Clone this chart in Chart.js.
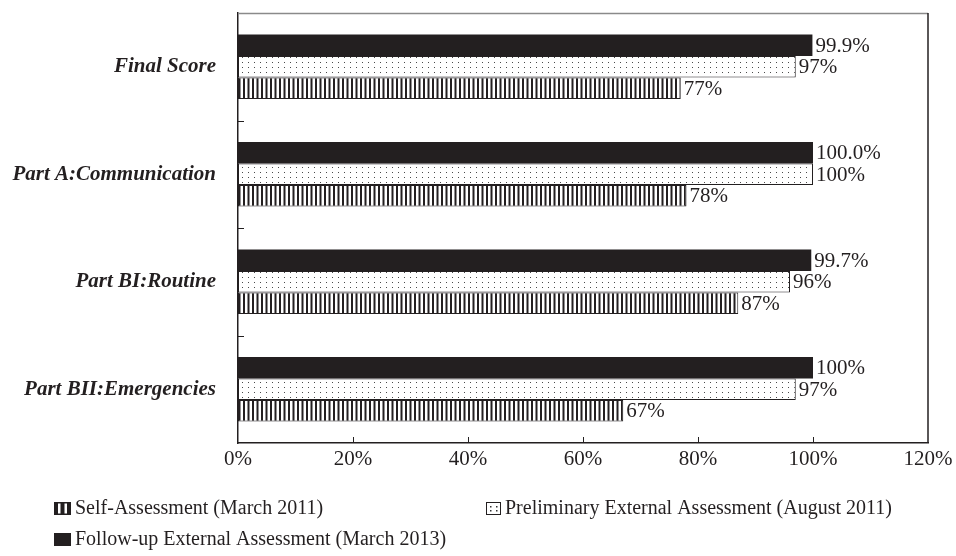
<!DOCTYPE html>
<html>
<head>
<meta charset="utf-8">
<script src="https://cdn.jsdelivr.net/npm/chart.js@4/dist/chart.umd.min.js"></script>
<style>
  html, body { margin: 0; padding: 0; background: #fff; }
  #wrap { width: 956px; height: 556px; position: relative; }
</style>
</head>
<body>
<div id="wrap"><canvas id="c" width="956" height="556"></canvas></div>
<script>
// Assessment scores (%) for each part of the evaluation
const categories = ['Final Score', 'Part A:Communication', 'Part BI:Routine', 'Part BII:Emergencies'];
const seriesNames = [
  'Self-Assessment (March 2011)',
  'Preliminary External Assessment (August 2011)',
  'Follow-up External Assessment (March 2013)'
];
const selfAssessment = [77, 78, 87, 67];
const preliminaryExternal = [97, 100, 96, 97];
const followUpExternal = [99.9, 100.0, 99.7, 100];
// number of decimals printed in each value label
const selfDecimals = [0, 0, 0, 0];
const preliminaryDecimals = [0, 0, 0, 0];
const followUpDecimals = [1, 1, 1, 0];
const xTicks = [0, 20, 40, 60, 80, 100, 120];

const INK = '#231f20';
const SERIF = '"Liberation Serif", "Times New Roman", serif';

function makePattern(w, h, paint) {
  const cv = document.createElement('canvas');
  cv.width = w; cv.height = h;
  const g = cv.getContext('2d');
  paint(g);
  return g.createPattern(cv, 'repeat');
}
const stripePattern = makePattern(9, 4, g => {
  g.fillStyle = '#fff'; g.fillRect(0, 0, 9, 4);
  g.fillStyle = INK;
  g.fillRect(0, 0, 2, 4);
  g.fillRect(4.5, 0, 2, 4);
});
const dotPattern = makePattern(6, 5, g => {
  g.fillStyle = '#fff'; g.fillRect(0, 0, 6, 5);
  g.fillStyle = '#4a4a4a';
  g.fillRect(2, 2, 1, 1);
});

// datasets listed top-to-bottom within each category
const datasets = [
  { label: seriesNames[2], data: followUpExternal, decimals: followUpDecimals,
    backgroundColor: INK, borderWidth: 0, kind: 'solid' },
  { label: seriesNames[1], data: preliminaryExternal, decimals: preliminaryDecimals,
    backgroundColor: dotPattern, borderColor: INK, borderWidth: 1, borderSkipped: false, kind: 'dots' },
  { label: seriesNames[0], data: selfAssessment, decimals: selfDecimals,
    backgroundColor: stripePattern, borderColor: INK, borderWidth: 1, borderSkipped: false, kind: 'stripes' }
];

const valueLabels = {
  id: 'valueLabels',
  afterDatasetsDraw(chart) {
    const ctx = chart.ctx;
    ctx.save();
    ctx.font = '21px ' + SERIF;
    ctx.fillStyle = INK;
    ctx.textAlign = 'left';
    ctx.textBaseline = 'middle';
    chart.data.datasets.forEach((ds, di) => {
      chart.getDatasetMeta(di).data.forEach((el, i) => {
        const txt = ds.data[i].toFixed(ds.decimals[i]) + '%';
        ctx.fillText(txt, el.x + 3, el.y + 1);
      });
    });
    ctx.restore();
  }
};

const frameAndTicks = {
  id: 'frameAndTicks',
  afterDraw(chart) {
    const ctx = chart.ctx;
    const a = chart.chartArea;
    const xs = chart.scales.x, ys = chart.scales.y;
    ctx.save();
    // top and right frame edges
    ctx.strokeStyle = '#8a8a8a';
    ctx.lineWidth = 1.5;
    ctx.beginPath(); ctx.moveTo(a.left, a.top + 0.5); ctx.lineTo(a.right, a.top + 0.5); ctx.stroke();
    ctx.strokeStyle = INK;
    ctx.beginPath(); ctx.moveTo(a.right, a.top); ctx.lineTo(a.right, a.bottom); ctx.stroke();
    // inward tick marks
    ctx.lineWidth = 1;
    xTicks.forEach(v => {
      if (v === xs.min || v === xs.max) return;
      const px = Math.round(xs.getPixelForValue(v)) + 0.5;
      ctx.beginPath(); ctx.moveTo(px, a.bottom); ctx.lineTo(px, a.bottom - 6); ctx.stroke();
    });
    for (let i = 1; i < categories.length; i++) {
      const py = Math.round((ys.getPixelForValue(i - 1) + ys.getPixelForValue(i)) / 2) + 0.5;
      ctx.beginPath(); ctx.moveTo(a.left, py); ctx.lineTo(a.left + 6, py); ctx.stroke();
    }
    ctx.restore();
  }
};

function drawSwatch(ctx, kind, x, y, w, h) {
  ctx.save();
  if (kind === 'solid') {
    ctx.fillStyle = INK;
    ctx.fillRect(x, y, w, h);
  } else if (kind === 'stripes') {
    // three bars with two narrow white slits, closed top and bottom
    ctx.fillStyle = INK;
    ctx.fillRect(x, y, w, h);
    ctx.fillStyle = '#fff';
    const gap = 2.5, bar = (w - 2 * gap) / 3;
    ctx.fillRect(x + bar, y + 1.5, gap, h - 3);
    ctx.fillRect(x + 2 * bar + gap, y + 1.5, gap, h - 3);
  } else {
    ctx.fillStyle = '#fff'; ctx.fillRect(x, y, w, h);
    ctx.strokeStyle = INK; ctx.lineWidth = 1;
    ctx.strokeRect(x + 0.5, y + 0.5, w - 1, h - 1);
    ctx.fillStyle = '#333';
    [[4, 4], [10, 4], [4, 8], [10, 8]].forEach(([dx, dy]) => ctx.fillRect(x + dx, y + dy, 1.5, 1.5));
  }
  ctx.restore();
}

const bottomLegend = {
  id: 'bottomLegend',
  afterDraw(chart) {
    const ctx = chart.ctx;
    const slots = [
      { ds: 2, x: 54, y: 508 },
      { ds: 1, x: 486, y: 508 },
      { ds: 0, x: 54, y: 539 }
    ];
    ctx.save();
    ctx.font = '20px ' + SERIF;
    ctx.textBaseline = 'middle';
    slots.forEach(s => {
      const ds = chart.data.datasets[s.ds];
      const w = ds.kind === 'dots' ? 15 : 17;
      drawSwatch(ctx, ds.kind, s.x, s.y - 6, w, 13);
      ctx.fillStyle = INK;
      ctx.fillText(ds.label, s.x + w + 4, s.y + 1);
    });
    ctx.restore();
  }
};

new Chart(document.getElementById('c'), {
  type: 'bar',
  data: { labels: categories, datasets },
  options: {
    indexAxis: 'y',
    responsive: false,
    animation: false,
    devicePixelRatio: 1,
    categoryPercentage: 0.6,
    barPercentage: 1.0,
    layout: { padding: { left: 0, top: 13, right: 28, bottom: 83 } },
    plugins: { legend: { display: false }, tooltip: { enabled: false } },
    scales: {
      x: {
        min: 0, max: 120,
        afterBuildTicks(scale) { scale.ticks = xTicks.map(v => ({ value: v })); },
        afterFit(scale) { scale.height = 30; scale.paddingLeft = 0; scale.paddingRight = 0; },
        grid: { display: false, drawTicks: false },
        border: { display: true, color: INK, width: 1.5 },
        ticks: {
          padding: 4,
          color: INK,
          font: { family: SERIF, size: 21 },
          maxRotation: 0,
          callback: v => v + '%'
        }
      },
      y: {
        afterFit(scale) { scale.width = 238; scale.paddingTop = 0; scale.paddingBottom = 0; },
        grid: { display: false, drawTicks: false },
        border: { display: true, color: INK, width: 1.5 },
        ticks: {
          padding: 22,
          color: INK,
          font: { family: SERIF, size: 21, style: 'italic', weight: 'bold' }
        }
      }
    }
  },
  plugins: [valueLabels, frameAndTicks, bottomLegend]
});
</script>
</body>
</html>
